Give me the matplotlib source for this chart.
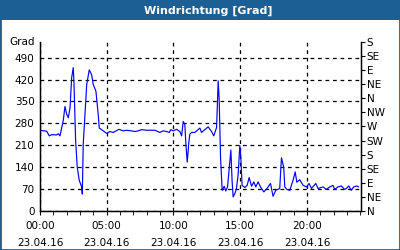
import matplotlib
matplotlib.use("Agg")
import matplotlib.pyplot as plt
from matplotlib.patches import Rectangle
from matplotlib.ticker import MultipleLocator

# data (hours since 00:00, degrees)
hours = [0.00, 0.50, 0.70, 0.88, 1.25, 1.37, 1.50, 1.62, 1.74, 1.87, 2.00, 2.12, 2.25,
         2.37, 2.49, 2.54, 2.67, 2.79, 2.94, 3.12, 3.17, 3.24, 3.37, 3.50, 3.69, 3.87,
         3.99, 4.19, 4.36, 4.44, 4.74, 4.99, 5.24, 5.49, 5.91, 6.24, 6.49, 6.86, 7.11,
         7.36, 7.61, 7.99, 8.61, 8.98, 9.23, 9.48, 9.68, 9.81, 9.98, 10.23, 10.48,
         10.61, 10.73, 10.85, 10.93, 11.03, 11.15, 11.23, 11.36, 11.60, 11.98, 12.10,
         12.35, 12.60, 12.85, 13.02, 13.23, 13.35, 13.42, 13.53, 13.65, 13.80, 13.92,
         14.05, 14.22, 14.30, 14.39, 14.47, 14.60, 14.72, 14.84, 14.97, 15.04, 15.14,
         15.34, 15.52, 15.67, 15.85, 16.02, 16.17, 16.34, 16.52, 16.77, 17.01, 17.27,
         17.46, 17.66, 17.96, 18.09, 18.26, 18.34, 18.49, 18.71, 18.96, 19.12, 19.24,
         19.46, 19.71, 19.96, 20.16, 20.34, 20.66, 20.83, 21.21, 21.46, 21.71, 21.95,
         22.08, 22.33, 22.58, 22.83, 22.96, 23.13, 23.33, 23.50, 23.75, 23.86]
grad = [258, 255, 240, 244, 243, 247, 240, 265, 288, 334, 309, 298, 330,
        425, 458, 416, 224, 140, 98, 77, 54, 214, 309, 404, 451, 435,
        404, 383, 309, 265, 256, 248, 254, 251, 261, 256, 258, 256, 254,
        256, 260, 258, 258, 251, 256, 254, 251, 260, 256, 261, 254,
        240, 286, 277, 214, 156, 219, 246, 251, 251, 265, 251,
        260, 269, 254, 240, 267, 416, 361, 167, 66, 79, 64,
        77, 156, 195, 98, 45, 56, 72, 114, 209, 177, 82,
        75, 82, 107, 79, 93, 77, 93, 77, 61, 72, 88,
        47, 66, 72, 170, 140, 77, 69, 66, 98, 125, 92,
        100, 82, 77, 88, 72, 88, 72, 77, 69, 77, 82,
        69, 77, 80, 69, 72, 80, 66, 77, 80, 77]

left_ticks = list(range(0, 491, 70))
right_ticks = list(range(0, 541, 45))
right_labels = ["N", "NE", "E", "SE", "S", "SW", "W", "NW", "N", "NE", "E", "SE", "S"]
x_major = [0, 5, 10, 15, 20]
x_labels = ["00:00\n23.04.16", "05:00\n23.04.16", "10:00\n23.04.16",
            "15:00\n23.04.16", "20:00\n23.04.16"]

blue = "#1c5f95"
fs = 7.5

fig = plt.figure(figsize=(4, 2.5), dpi=100)
fig.patch.set_facecolor("white")

# title bar and frame
fig.patches.append(Rectangle((0, 1 - 20 / 250), 1, 20 / 250, transform=fig.transFigure,
                             facecolor=blue, edgecolor="none", zorder=0))
fig.patches.append(Rectangle((0, 0), 1, 1, transform=fig.transFigure,
                             facecolor="none", edgecolor=blue, lw=2, zorder=5))
fig.text(0.52, 1 - 10.5 / 250, "Windrichtung [Grad]", color="white", fontsize=8,
         fontweight="bold", ha="center", va="center")

ax = fig.add_axes([40 / 400, 39 / 250, 321 / 400, 169 / 250])
ax.plot(hours, grad, color="#0000ff", lw=0.85)
ax.set_xlim(0, 24.05)
ax.set_ylim(0, 540)

ax.set_yticks(left_ticks)
ax.tick_params(axis="y", length=0, pad=4, labelsize=fs)
ax.set_xticks(x_major)
ax.set_xticklabels(x_labels, linespacing=1.9)
ax.xaxis.set_minor_locator(MultipleLocator(1))
ax.tick_params(axis="x", which="both", direction="out", length=3, labelsize=fs, pad=4)
ax.grid(True, color="black", linestyle=(0, (3, 3)), lw=0.9)

ax.spines["top"].set_visible(False)
for s in ["left", "bottom", "right"]:
    ax.spines[s].set_linewidth(1)

ax.text(-0.015, 1.0, "Grad", transform=ax.transAxes, ha="right", va="center", fontsize=fs)

ax2 = ax.twinx()
ax2.set_ylim(0, 540)
ax2.set_yticks(right_ticks)
ax2.set_yticklabels(right_labels)
ax2.tick_params(axis="y", direction="out", length=3, pad=1, labelsize=fs)
ax2.spines["top"].set_visible(False)

fig.savefig("out.png", dpi=100)
